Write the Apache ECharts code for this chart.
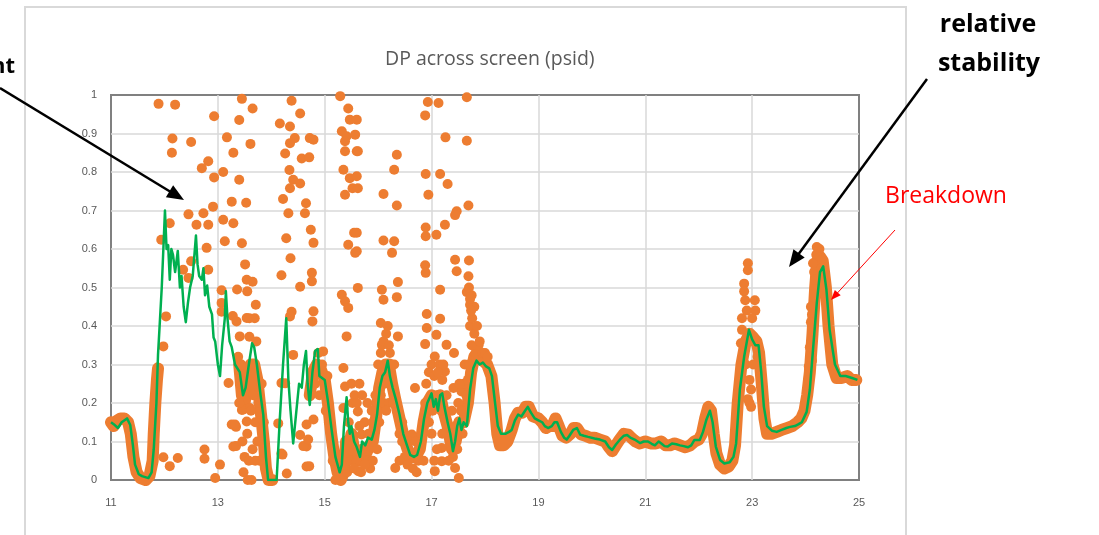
<!DOCTYPE html>
<html>
<head>
<meta charset="utf-8">
<title>DP across screen (psid)</title>
<script src="https://cdn.jsdelivr.net/npm/echarts@6/dist/echarts.min.js"></script>
<style>
  html, body { margin: 0; padding: 0; background: #ffffff; }
  #chart { width: 1099px; height: 535px; }
</style>
</head>
<body>
<div id="chart"></div>
<script>
// Axis setup
const xTicks = [11, 13, 15, 17, 19, 21, 23, 25];
const yTicks = [0, 0.1, 0.2, 0.3, 0.4, 0.5, 0.6, 0.7, 0.8, 0.9, 1];

// Smoothed differential pressure (green trend line): [time, psid]
const avgLine = [
  [11.00,0.150],[11.05,0.145],[11.13,0.135],[11.20,0.150],[11.30,0.160],[11.36,0.143],[11.41,0.090],[11.45,0.040],
  [11.52,0.015],[11.58,0.010],[11.70,0.005],[11.76,0.020],[11.80,0.080],[11.85,0.200],[11.88,0.325],[11.95,0.500],
  [12.01,0.700],[12.04,0.600],[12.07,0.610],[12.10,0.520],[12.13,0.600],[12.16,0.585],[12.20,0.540],[12.25,0.595],
  [12.29,0.500],[12.32,0.530],[12.36,0.450],[12.40,0.410],[12.44,0.460],[12.48,0.500],[12.53,0.530],[12.59,0.635],
  [12.62,0.560],[12.65,0.530],[12.70,0.520],[12.73,0.550],[12.76,0.480],[12.80,0.505],[12.84,0.450],[12.89,0.430],
  [12.92,0.370],[12.95,0.360],[13.00,0.300],[13.04,0.270],[13.08,0.350],[13.13,0.420],[13.15,0.490],[13.18,0.420],
  [13.22,0.360],[13.26,0.345],[13.32,0.300],[13.41,0.280],[13.47,0.220],[13.52,0.240],[13.58,0.300],[13.64,0.355],
  [13.68,0.345],[13.73,0.300],[13.80,0.220],[13.85,0.170],[13.90,0.060],[13.94,0.000],[14.10,0.000],[14.16,0.160],
  [14.22,0.300],[14.28,0.420],[14.32,0.260],[14.36,0.180],[14.41,0.095],[14.47,0.180],[14.52,0.250],[14.57,0.240],
  [14.61,0.300],[14.65,0.335],[14.68,0.250],[14.72,0.195],[14.77,0.280],[14.82,0.335],[14.87,0.340],[14.90,0.270],
  [15.00,0.260],[15.06,0.205],[15.13,0.130],[15.20,0.060],[15.28,0.020],[15.32,0.040],[15.36,0.140],[15.41,0.215],
  [15.44,0.150],[15.47,0.120],[15.50,0.140],[15.55,0.100],[15.60,0.085],[15.66,0.060],[15.70,0.100],[15.76,0.090],
  [15.81,0.110],[15.88,0.105],[15.93,0.130],[15.98,0.170],[16.03,0.240],[16.08,0.270],[16.13,0.280],[16.18,0.310],
  [16.22,0.270],[16.27,0.240],[16.33,0.210],[16.40,0.170],[16.47,0.120],[16.54,0.090],[16.60,0.065],[16.67,0.060],
  [16.73,0.065],[16.80,0.100],[16.86,0.160],[16.92,0.200],[17.00,0.225],[17.04,0.190],[17.08,0.210],[17.12,0.180],
  [17.16,0.220],[17.20,0.225],[17.24,0.190],[17.30,0.150],[17.35,0.120],[17.40,0.075],[17.44,0.100],[17.48,0.140],
  [17.52,0.160],[17.56,0.130],[17.60,0.150],[17.66,0.140],[17.72,0.235],[17.78,0.290],[17.84,0.310],[17.90,0.300],
  [17.96,0.305],[18.02,0.295],[18.08,0.290],[18.13,0.270],[18.18,0.210],[18.24,0.140],[18.30,0.120],[18.38,0.120],
  [18.45,0.125],[18.50,0.130],[18.56,0.155],[18.62,0.170],[18.68,0.165],[18.75,0.180],[18.80,0.190],[18.86,0.175],
  [18.93,0.160],[19.00,0.155],[19.07,0.150],[19.12,0.140],[19.18,0.135],[19.25,0.140],[19.30,0.150],[19.35,0.150],
  [19.42,0.125],[19.48,0.110],[19.53,0.105],[19.58,0.115],[19.65,0.130],[19.72,0.135],[19.78,0.118],[19.85,0.115],
  [19.93,0.112],[20.05,0.108],[20.15,0.105],[20.25,0.100],[20.32,0.085],[20.38,0.078],[20.45,0.092],[20.52,0.104],
  [20.60,0.115],[20.66,0.117],[20.72,0.110],[20.80,0.105],[20.90,0.096],[20.97,0.100],[21.05,0.100],[21.12,0.094],
  [21.18,0.090],[21.25,0.100],[21.30,0.095],[21.36,0.088],[21.42,0.087],[21.50,0.095],[21.58,0.093],[21.65,0.090],
  [21.72,0.088],[21.80,0.085],[21.86,0.090],[21.92,0.104],[22.02,0.104],[22.08,0.125],[22.14,0.155],[22.21,0.180],
  [22.26,0.150],[22.32,0.087],[22.40,0.052],[22.48,0.043],[22.58,0.046],[22.65,0.060],[22.70,0.095],[22.77,0.235],
  [22.85,0.320],[22.94,0.390],[23.00,0.365],[23.06,0.350],[23.12,0.350],[23.17,0.280],[23.22,0.190],[23.28,0.140],
  [23.37,0.128],[23.46,0.125],[23.55,0.130],[23.64,0.135],[23.71,0.138],[23.80,0.140],[23.87,0.145],[23.93,0.150],
  [24.02,0.177],[24.08,0.235],[24.14,0.340],[24.21,0.460],[24.27,0.540],[24.33,0.555],[24.39,0.495],[24.45,0.390],
  [24.55,0.300],[24.65,0.270],[24.75,0.270],[24.87,0.265],[24.97,0.260]
];

// Dense run of raw readings (drawn as a thick orange band); null breaks the band
const rawBand = [
  [11.00,0.150],[11.05,0.140],[11.12,0.155],[11.18,0.160],[11.25,0.160],[11.32,0.150],[11.37,0.120],[11.42,0.060],
  [11.48,0.020],[11.55,0.005],[11.65,0.000],[11.72,0.010],[11.78,0.050],[11.80,0.120],[11.83,0.200],[11.86,0.260],
  [11.88,0.290],[11.89,null],
  [13.40,0.300],[13.45,0.220],[13.50,0.200],[13.56,0.250],[13.62,0.300],[13.68,0.300],[13.74,0.260],[13.80,0.180],
  [13.86,0.100],[13.90,0.030],[13.95,0.000],[14.02,0.000],[14.03,null],
  [14.72,0.220],[14.78,0.280],[14.85,0.300],[14.92,0.290],[15.00,0.260],[15.06,0.200],[15.12,0.120],[15.18,0.060],
  [15.24,0.020],[15.30,0.000],[15.36,0.020],[15.40,0.100],[15.45,0.080],[15.50,0.120],[15.55,0.080],[15.60,0.060],
  [15.66,0.050],[15.72,0.080],[15.78,0.070],[15.84,0.090],[15.90,0.100],[15.96,0.160],[16.02,0.240],[16.08,0.280],
  [16.14,0.300],[16.20,0.300],[16.26,0.250],[16.32,0.210],[16.40,0.160],[16.48,0.110],[16.55,0.080],[16.62,0.060],
  [16.70,0.060],[16.78,0.080],[16.85,0.150],[16.92,0.200],[17.00,0.220],[17.08,0.200],[17.16,0.220],[17.22,0.180],
  [17.30,0.140],[17.38,0.080],[17.45,0.100],[17.52,0.150],[17.60,0.150],[17.68,0.200],[17.74,0.280],[17.80,0.320],
  [17.88,0.320],[17.96,0.310],[18.04,0.300],[18.12,0.270],[18.18,0.200],[18.23,0.120],[18.28,0.090],[18.35,0.090],
  [18.42,0.100],[18.50,0.130],[18.56,0.160],[18.62,0.175],[18.70,0.175],[18.76,0.190],[18.82,0.190],[18.90,0.165],
  [19.00,0.160],[19.07,0.150],[19.14,0.135],[19.20,0.140],[19.26,0.140],[19.32,0.160],[19.38,0.140],[19.45,0.115],
  [19.52,0.110],[19.60,0.120],[19.66,0.135],[19.72,0.135],[19.80,0.118],[19.88,0.115],[19.96,0.110],[20.05,0.110],
  [20.15,0.105],[20.25,0.100],[20.32,0.085],[20.38,0.075],[20.45,0.090],[20.52,0.105],[20.60,0.120],[20.68,0.118],
  [20.75,0.108],[20.82,0.100],[20.90,0.095],[21.00,0.100],[21.10,0.095],[21.20,0.095],[21.30,0.100],[21.38,0.090],
  [21.46,0.090],[21.55,0.095],[21.65,0.090],[21.75,0.085],[21.84,0.090],[21.92,0.100],[22.00,0.105],[22.06,0.120],
  [22.12,0.160],[22.18,0.190],[22.23,0.180],[22.28,0.120],[22.33,0.070],[22.40,0.040],[22.48,0.030],[22.56,0.035],
  [22.63,0.050],[22.68,0.090],[22.73,0.200],[22.80,0.300],[22.88,0.360],[22.95,0.380],[23.02,0.370],[23.08,0.360],
  [23.13,0.330],[23.18,0.250],[23.23,0.160],[23.28,0.120],[23.36,0.120],[23.46,0.125],[23.55,0.130],[23.65,0.135],
  [23.75,0.140],[23.85,0.150],[23.92,0.160],[23.98,0.180],[24.03,0.220],[24.08,0.280],[24.13,0.380],[24.18,0.500],
  [24.22,0.570],[24.27,0.580],[24.32,0.570],[24.38,0.500],[24.43,0.400],[24.50,0.300],[24.58,0.265],[24.68,0.265],
  [24.78,0.270],[24.86,0.260],[24.95,0.260]
];

// Individual raw readings away from the band (orange dots)
const rawPoints = [
  [11.89,0.977],[12.20,0.975],[12.93,0.945],[12.15,0.887],[12.50,0.878],[12.14,0.850],[13.17,0.890],[12.82,0.828],
  [12.70,0.810],[12.93,0.786],[13.10,0.800],[12.45,0.690],[12.73,0.693],[12.91,0.710],[12.60,0.663],[12.82,0.663],
  [13.10,0.676],[12.10,0.667],[11.94,0.624],[12.79,0.603],[13.13,0.620],[12.50,0.568],[12.35,0.546],[12.45,0.525],
  [12.82,0.546],[13.07,0.493],[12.03,0.425],[13.07,0.460],[11.98,0.347],[13.20,0.252],[11.98,0.059],[12.10,0.036],
  [12.25,0.057],[12.75,0.079],[12.75,0.055],[13.04,0.040],[12.95,0.005],[13.26,0.144],
  [13.45,0.990],[13.65,0.965],[13.40,0.935],[13.61,0.873],[13.29,0.850],[13.40,0.780],[13.53,0.720],[13.26,0.723],
  [13.29,0.667],[13.45,0.615],[13.51,0.560],[13.54,0.520],[13.65,0.515],[13.36,0.495],[13.55,0.490],[13.71,0.455],
  [13.07,0.437],[13.59,0.420],[13.69,0.420],[13.28,0.426],[13.59,0.372],[13.45,0.182],[13.34,0.138],[13.29,0.087],
  [13.34,0.088],[13.32,0.144],[13.54,0.152],[13.48,0.183],[13.60,0.187],[13.35,0.412],[13.41,0.373],[13.54,0.421],
  [13.42,0.250],[13.46,0.100],[13.50,0.060],[13.55,0.120],[13.58,0.050],[13.62,0.180],[13.66,0.220],[13.70,0.150],
  [13.74,0.100],[13.78,0.050],[13.40,0.200],[13.52,0.280],[13.65,0.080],
  [13.38,0.320],[13.44,0.300],[13.48,0.020],[13.56,0.000],[13.63,0.000],[13.70,0.050],[13.76,0.200],[13.82,0.250],
  [13.86,0.150],[13.72,0.360],
  [14.16,0.926],[14.38,0.985],[14.54,0.952],[14.35,0.918],[14.44,0.888],[14.35,0.875],[14.57,0.835],[14.26,0.848],
  [14.34,0.805],[14.41,0.780],[14.54,0.770],[14.22,0.730],[14.35,0.758],[14.32,0.693],[14.63,0.693],[14.28,0.628],
  [14.36,0.576],[14.19,0.532],[14.54,0.502],[14.38,0.437],[14.26,0.251],[14.13,0.147],[14.19,0.069],[14.29,0.017],
  [14.66,0.087],[14.66,0.035],[14.21,0.066],[14.19,0.252],[14.35,0.425],[14.41,0.325],[14.54,0.117],[14.66,0.144],
  [14.60,0.088],
  [14.72,0.888],[14.79,0.884],[14.71,0.838],[14.65,0.719],[14.74,0.650],[14.79,0.616],[14.76,0.538],[14.76,0.516],
  [14.79,0.438],[14.77,0.412],[14.97,0.334],[14.69,0.105],[14.79,0.157],[14.71,0.036],
  [14.82,0.250],[14.90,0.220],[14.95,0.300],[15.02,0.180],[15.08,0.150],[15.15,0.050],[15.20,0.000],[15.25,0.060],
  [14.88,0.330],[15.05,0.270],
  [15.29,0.997],[15.44,0.965],[15.47,0.936],[15.32,0.906],[15.41,0.893],[15.38,0.880],[15.57,0.897],[15.38,0.854],
  [15.60,0.854],[15.35,0.806],[15.47,0.784],[15.52,0.758],[15.38,0.741],[15.55,0.642],[15.44,0.611],[15.57,0.590],
  [15.32,0.481],[15.38,0.464],[15.44,0.447],[15.41,0.373],[15.35,0.291],[15.38,0.243],[15.35,0.187],
  [15.60,0.936],[15.62,0.854],[15.60,0.789],[15.62,0.758],[15.60,0.642],[15.60,0.594],[15.62,0.499],
  [15.42,0.020],[15.48,0.050],[15.52,0.200],[15.56,0.220],[15.50,0.250],[15.63,0.023],[15.62,0.178],[15.69,0.118],
  [15.60,0.200],[15.65,0.250],[15.70,0.220],[15.75,0.150],[15.80,0.050],[15.85,0.030],[15.60,0.050],[15.70,0.080],
  [15.80,0.200],[15.90,0.150],[15.90,0.050],[15.65,0.140],
  [15.45,0.150],[15.55,0.030],[15.68,0.020],[15.75,0.040],[15.82,0.120],[15.88,0.180],[15.95,0.220],[15.98,0.080],
  [16.35,0.845],[16.30,0.806],[16.10,0.743],[16.35,0.713],[16.10,0.622],[16.30,0.620],[16.26,0.590],[16.37,0.514],
  [16.07,0.494],[16.10,0.468],[16.35,0.475],[16.05,0.408],[16.37,0.373],[16.07,0.351],[16.69,0.239],[16.63,0.118],
  [16.32,0.031],
  [16.00,0.300],[16.05,0.330],[16.10,0.360],[16.15,0.380],[16.20,0.350],[16.25,0.300],[16.30,0.220],[16.05,0.220],
  [16.10,0.200],[16.20,0.200],[16.30,0.300],[16.35,0.180],[16.40,0.120],[16.45,0.150],[16.50,0.060],[16.40,0.050],
  [16.45,0.100],[16.55,0.040],[16.75,0.050],[16.80,0.100],[16.85,0.150],
  [16.02,0.150],[16.12,0.250],[16.18,0.400],[16.22,0.330],[16.28,0.200],[16.15,0.180],
  [16.58,0.100],[16.65,0.030],[16.70,0.100],[16.72,0.020],[16.85,0.050],[16.88,0.200],
  [16.93,0.982],[17.13,0.979],[16.88,0.947],[17.26,0.890],[17.66,0.994],[17.66,0.881],[16.89,0.795],[17.16,0.795],
  [17.30,0.769],[16.94,0.741],[17.69,0.713],[17.47,0.698],[17.44,0.688],[17.25,0.663],[16.89,0.656],[16.89,0.633],
  [17.09,0.637],[17.44,0.572],[17.70,0.570],[17.47,0.542],[17.69,0.529],[16.88,0.558],[16.89,0.538],[17.16,0.494],
  [17.66,0.488],[17.72,0.455],[16.91,0.431],[17.16,0.419],[16.91,0.395],[17.09,0.377],[17.28,0.351],[16.88,0.353],
  [17.42,0.330],[17.06,0.321],[17.25,0.282],[17.19,0.083],[17.19,0.049],[17.44,0.031],[17.51,0.005],[17.06,0.023],
  [17.41,0.239],[17.56,0.230],[17.62,0.187],
  [16.90,0.250],[16.95,0.280],[17.00,0.300],[17.05,0.270],[17.10,0.220],[17.15,0.300],[17.20,0.260],[17.25,0.180],
  [17.30,0.120],[17.35,0.100],[17.40,0.060],[17.45,0.140],[17.50,0.200],[17.55,0.180],[17.60,0.250],[17.65,0.220],
  [17.00,0.120],[17.10,0.080],[17.20,0.120],[16.95,0.150],
  [17.02,0.180],[17.05,0.050],[17.12,0.280],[17.18,0.180],[17.22,0.300],[17.28,0.220],[17.32,0.050],[17.38,0.180],
  [17.42,0.120],[17.48,0.080],[17.52,0.250],[17.58,0.120],[17.62,0.300],[17.68,0.260],[17.72,0.400],[17.76,0.420],
  [17.80,0.450],[17.75,0.480],[17.82,0.330],[17.88,0.350],[17.70,0.500],[17.72,0.470],[17.74,0.440],
  [17.70,0.300],[17.75,0.350],[17.80,0.380],[17.85,0.400],[17.90,0.360],[17.95,0.330],[18.00,0.330],[18.05,0.320],
  [22.92,0.563],[22.92,0.545],[22.85,0.510],[22.85,0.490],[22.87,0.467],[23.05,0.467],[23.06,0.440],[22.81,0.420],
  [22.81,0.390],[22.79,0.355],[22.95,0.360],[23.08,0.360],[22.95,0.260],[22.98,0.235],[22.95,0.200],[22.98,0.190],
  [22.92,0.210],[22.88,0.300],[23.02,0.300],[23.10,0.320],[22.90,0.440],[23.00,0.420],
  [24.21,0.605],[24.26,0.600],[24.20,0.585],[24.28,0.570],[24.14,0.563],[24.16,0.540],[24.10,0.450],[24.12,0.430],
  [24.10,0.410],[24.08,0.345],[24.12,0.310],[24.06,0.295],[24.05,0.260],[24.30,0.550],[24.18,0.520]
];

const ORANGE = '#ED7D31';
const GREEN = '#00B050';
const AXIS_TEXT = '#595959';

// Arrow helpers for the hand-drawn callouts
function arrow(x1, y1, x2, y2, color, width, headLen, headWid) {
  const dx = x2 - x1, dy = y2 - y1;
  const len = Math.sqrt(dx * dx + dy * dy);
  const ux = dx / len, uy = dy / len;
  const bx = x2 - ux * headLen, by = y2 - uy * headLen;
  const px = -uy * headWid / 2, py = ux * headWid / 2;
  return [
    { type: 'line', z: 100,
      shape: { x1: x1, y1: y1, x2: bx + ux * 2, y2: by + uy * 2 },
      style: { stroke: color, lineWidth: width } },
    { type: 'polygon', z: 100,
      shape: { points: [[x2, y2], [bx + px, by + py], [bx - px, by - py]] },
      style: { fill: color } }
  ];
}

const chart = echarts.init(document.getElementById('chart'), null, { renderer: 'canvas' });

const gridSplit = { show: true, showMinLine: false, showMaxLine: false, lineStyle: { color: '#d9d9d9', width: 1.5 } };

const option = {
  backgroundColor: '#ffffff',
  animation: false,
  title: {
    text: 'DP across screen (psid)',
    left: 380, top: 44,
    textStyle: { fontFamily: 'Open Sans', fontSize: 19.5, fontWeight: 'normal', color: AXIS_TEXT }
  },
  grid: {
    left: 111, right: 240, top: 95, bottom: 55,
    show: true, borderColor: '#808080', borderWidth: 2, backgroundColor: 'transparent'
  },
  xAxis: {
    type: 'value', min: xTicks[0], max: xTicks[xTicks.length - 1], interval: 2,
    axisLine: { show: false }, axisTick: { show: false },
    axisLabel: { color: AXIS_TEXT, fontFamily: 'Liberation Sans Narrow, Liberation Sans', fontSize: 11, margin: 17 },
    splitLine: gridSplit
  },
  yAxis: {
    type: 'value', min: yTicks[0], max: yTicks[yTicks.length - 1], interval: 0.1,
    axisLine: { show: false }, axisTick: { show: false },
    axisLabel: {
      color: AXIS_TEXT, fontFamily: 'Liberation Sans Narrow, Liberation Sans', fontSize: 11, margin: 14,
      formatter: v => String(+v.toFixed(1))
    },
    splitLine: gridSplit
  },
  series: [
    {
      name: 'raw band', type: 'line', data: rawBand, showSymbol: false, connectNulls: false,
      lineStyle: { color: ORANGE, width: 12, cap: 'round', join: 'round' }, z: 2, silent: true
    },
    {
      name: 'raw', type: 'scatter', data: rawPoints, symbolSize: 10,
      itemStyle: { color: ORANGE, opacity: 1 }, z: 3, silent: true
    },
    {
      name: 'average', type: 'line', data: avgLine, showSymbol: false,
      lineStyle: { color: GREEN, width: 2.5, join: 'round' }, z: 4, silent: true
    }
  ],
  graphic: [
    { type: 'rect', z: -1, silent: true,
      shape: { x: 25, y: 7, width: 881, height: 540 },
      style: { fill: 'none', stroke: '#d9d9d9', lineWidth: 2 } },
    { type: 'text', z: 100, x: 15, y: 78,
      style: { text: 'nt', fill: '#000', font: 'bold 22px "Open Sans"', textAlign: 'right', textVerticalAlign: 'bottom' } },
    { type: 'text', z: 100, x: 988, y: 25,
      style: { text: 'relative', fill: '#000', font: 'bold 25px "Open Sans"', textAlign: 'center', textVerticalAlign: 'middle' } },
    { type: 'text', z: 100, x: 989, y: 64,
      style: { text: 'stability', fill: '#000', font: 'bold 25px "Open Sans"', textAlign: 'center', textVerticalAlign: 'middle' } },
    { type: 'text', z: 100, x: 946, y: 196,
      style: { text: 'Breakdown', fill: '#ff0000', font: '23px "Open Sans"', textAlign: 'center', textVerticalAlign: 'middle' } },
    ...arrow(0, 88, 184, 200, '#000', 2.5, 17, 14),
    ...arrow(927, 79, 789, 267, '#000', 2.5, 17, 14),
    ...arrow(895, 230, 831, 300, '#ff0000', 1, 10, 8)
  ]
};

chart.setOption(option);
</script>
</body>
</html>
